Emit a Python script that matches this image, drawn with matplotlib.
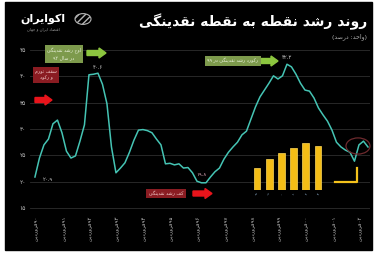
import re
import matplotlib
matplotlib.use('Agg')
import matplotlib.pyplot as plt
from matplotlib.patches import Rectangle, Circle, FancyArrow
from matplotlib.lines import Line2D

plt.rcParams['font.family'] = ['DejaVu Sans']

# ---- data: point-to-point liquidity growth (%), every 2 months ----
months = list(range(0, 150, 2))
growth = [20.9, 24.5, 27.0, 28.1, 31.0, 31.7, 29.3, 25.8, 24.5, 24.9,
          27.7, 30.8, 40.3, 40.4, 40.6, 38.5, 34.8, 26.6, 21.7, 22.6,
          23.6, 25.6, 27.9, 29.8, 29.9, 29.7, 29.3, 28.1, 27.0, 23.4,
          23.5, 23.2, 23.4, 22.6, 22.7, 21.7, 20.1, 19.8, 19.8, 20.9,
          21.9, 22.6, 24.3, 25.6, 26.6, 27.5, 28.9, 29.6, 31.9, 34.2,
          36.1, 37.4, 38.7, 40.1, 39.5, 40.1, 42.3, 41.8, 40.4, 38.7,
          37.4, 37.2, 35.9, 34.0, 32.7, 31.5, 29.8, 27.5, 26.6, 26.0,
          25.6, 23.9, 27.0, 27.7, 26.6]

tick_months = [1, 13, 25, 37, 49, 61, 73, 85, 97, 109, 121, 133, 145]
tick_years = ['۹۰', '۹۱', '۹۲', '۹۳', '۹۴', '۹۵', '۹۶', '۹۷', '۹۸', '۹۹',
              '۰۰', '۰۱', '۰۲']
y_ticks = [15, 20, 25, 30, 35, 40, 45]

# small yellow bar inset
bar_labels = ['۹۸', '۹۹', '۰۰', '۰۱', '۰۲', '۰۳']
bar_values = [22, 31, 37, 42, 47, 44]

# ---- minimal persian shaping (matplotlib has no bidi / joining) ----
DUAL = {'ب': 0xFE8F, 'پ': 0xFB56, 'ت': 0xFE95, 'ث': 0xFE99, 'ج': 0xFE9D,
        'چ': 0xFB7A, 'ح': 0xFEA1, 'خ': 0xFEA5, 'س': 0xFEB1, 'ش': 0xFEB5,
        'ص': 0xFEB9, 'ض': 0xFEBD, 'ط': 0xFEC1, 'ظ': 0xFEC5, 'ع': 0xFEC9,
        'غ': 0xFECD, 'ف': 0xFED1, 'ق': 0xFED5, 'ک': 0xFB8E, 'گ': 0xFB92,
        'ل': 0xFEDD, 'م': 0xFEE1, 'ن': 0xFEE5, 'ه': 0xFEE9, 'ی': 0xFBFC}
RIGHT = {'ا': 0xFE8D, 'آ': 0xFE81, 'د': 0xFEA9, 'ذ': 0xFEAB, 'ر': 0xFEAD,
         'ز': 0xFEAF, 'ژ': 0xFB8A, 'و': 0xFEED}


def fa(text):
    out = []
    for k, c in enumerate(text):
        if c in DUAL or c in RIGHT:
            prev = text[k - 1] if k > 0 else ''
            nxt = text[k + 1] if k + 1 < len(text) else ''
            jp = prev in DUAL
            jn = c in DUAL and (nxt in DUAL or nxt in RIGHT)
            base = DUAL.get(c, RIGHT.get(c))
            if jp and jn:
                out.append(chr(base + 3))
            elif jp:
                out.append(chr(base + 1))
            elif jn:
                out.append(chr(base + 2))
            else:
                out.append(chr(base))
        elif c != '\u200c':
            out.append(c)
    tokens = re.findall(r'[0-9۰-۹.]+|.', ''.join(out))
    s = ''.join(reversed(tokens))
    return s.translate(str.maketrans('()', ')('))


def digits(v):
    return ('%.1f' % v).translate(str.maketrans('0123456789', '۰۱۲۳۴۵۶۷۸۹'))


W, H = 377, 254


def fx(x):
    return x / W


def fy(y):
    return 1 - y / H


fig = plt.figure(figsize=(W / 100, H / 100), dpi=100, facecolor='white')
fig.patches.append(Rectangle((fx(5), fy(250)), fx(367), 248 / H,
                             transform=fig.transFigure, color='black', zorder=-10))

ax = fig.add_axes([fx(30), fy(212), fx(340), 167 / H])
ax.set_facecolor('none')
ax.plot(months, growth, color='#45c4b4', lw=1.1, zorder=3)
ax.set_xlim(-2.2, 148.9)
ax.set_ylim(14.26, 45.95)
ax.set_yticks(y_ticks)
ax.set_yticklabels([digits(v).split('.')[0] for v in y_ticks])
ax.set_xticks(tick_months)
ax.set_xticklabels([fa('فروردین ') + y for y in tick_years], rotation=90)
ax.tick_params(axis='y', length=0, labelsize=4.3, colors='#bdbdbd', pad=3)
ax.tick_params(axis='x', length=0, labelsize=3.9, colors='#bdbdbd', pad=3)
ax.grid(axis='y', color='#2e2e2e', lw=0.6)
for s in ax.spines.values():
    s.set_visible(False)

# value labels on extremes
i_start, i_p1, i_tr, i_p2 = 0, growth.index(max(growth[:20])), growth.index(min(growth[30:45])), growth.index(max(growth))
lab = dict(fontsize=3.8, color='#cfcfcf', ha='center')
ax.annotate(digits(growth[i_start]), (months[i_start], growth[i_start]), xytext=(9, -3),
            textcoords='offset points', **lab)
ax.annotate(digits(growth[i_p1]), (months[i_p1], growth[i_p1]), xytext=(0, 3),
            textcoords='offset points', **lab)
ax.annotate(digits(growth[i_p2]), (months[i_p2], growth[i_p2]), xytext=(0, 4),
            textcoords='offset points', **lab)
ax.annotate(digits(growth[i_tr]), (months[i_tr], growth[i_tr]), xytext=(0, 5),
            textcoords='offset points', fontsize=3.8, color='#d9a3b4', ha='center')

# ---- title and logo ----
fig.text(fx(367), fy(22), fa('روند رشد نقطه به نقطه نقدینگی'), ha='right', va='center',
         fontsize=10, weight='bold', color='white')
fig.text(fx(367), fy(37), fa('(واحد: درصد)'), ha='right', va='center',
         fontsize=4.5, color='#b0b0b0')
fig.text(fx(43), fy(19), fa('اکوایران'), ha='center', va='center',
         fontsize=8, weight='bold', color='white')
fig.text(fx(43), fy(29), fa('اقتصاد ایران و جهان'), ha='center', va='center',
         fontsize=2.8, color='#9a9a9a')
fig.patches.append(Circle((fx(83), fy(19)), 8 / W, transform=fig.transFigure,
                          facecolor='none', edgecolor='#b5b5b5', hatch='/////', lw=0.8))


# ---- annotation boxes with arrows ----
def box(x, y, txt, fc, tc):
    fig.text(fx(x), fy(y), txt, ha='center', va='center', fontsize=3.4, color=tc,
             linespacing=1.3,
             bbox=dict(boxstyle='square,pad=0.5', fc=fc, ec='none'))


def arrow(x, y, length, color):
    fig.patches.append(FancyArrow(fx(x), fy(y), fx(length), 0, width=5 / H,
                                  head_width=10 / H, head_length=fx(7),
                                  length_includes_head=True, color=color,
                                  transform=fig.transFigure))


box(64, 54.5, fa('اوج رشد نقدینگی') + '\n' + fa('در سال ۹۲'), '#7d9a4c', '#e8f0d8')
arrow(87, 53, 19, '#8cc63f')
box(46, 75, fa('سقف تورم') + '\n' + fa('و رکود'), '#8a1c22', '#f0c8c8')
arrow(35, 100, 17, '#e8141b')
box(233, 61, fa('رکورد رشد نقدینگی در ۹۹'), '#7d9a4c', '#e8f0d8')
arrow(260, 61, 18, '#8cc63f')
box(166, 193.5, fa('کف رشد نقدینگی'), '#8a1c22', '#f0c8c8')
arrow(193, 193.5, 19, '#e8141b')

# highlight circle at the end of the series
fig.patches.append(Circle((fx(358), fy(146)), 12 / W, transform=fig.transFigure,
                          facecolor='none', edgecolor='#6e2a2e', lw=0.9))

# ---- yellow bar inset ----
bx = fig.add_axes([fx(251), fy(190), fx(73), 50 / H])
bx.set_facecolor('none')
bx.bar(range(len(bar_values)), bar_values, width=0.55, color='#f4bd16',
       edgecolor='#ffd95a', lw=0.5)
bx.set_xlim(-0.5, len(bar_values) - 0.5)
bx.set_ylim(0, 50)
bx.set_yticks([])
bx.set_xticks(range(len(bar_labels)))
bx.set_xticklabels(bar_labels, rotation=90)
bx.tick_params(length=0, labelsize=2.5, colors='#8fb0d0', pad=1)
for s in bx.spines.values():
    s.set_visible(False)

fig.lines.append(Line2D([fx(335), fx(357), fx(357)], [fy(182), fy(182), fy(168)],
                        transform=fig.transFigure, color='#f4c21c', lw=1.6,
                        solid_joinstyle='round'))

fig.savefig('out.png', dpi=100, facecolor=fig.get_facecolor())
